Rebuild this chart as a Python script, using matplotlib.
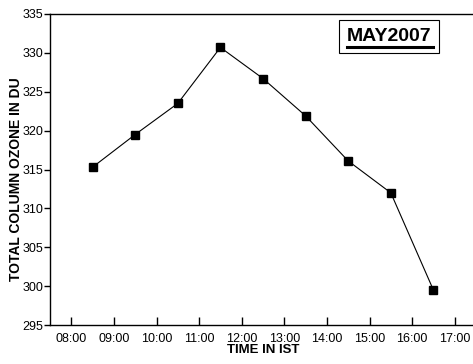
import numpy as np
import matplotlib.pyplot as plt
from matplotlib.lines import Line2D

plt.rcParams['font.family'] = ['Liberation Sans', 'DejaVu Sans']

# hourly mean ozone, May 2007
hours = [8.5, 9.5, 10.5, 11.5, 12.5, 13.5, 14.5, 15.5, 16.5]
ozone = [315.3, 319.5, 323.5, 330.7, 326.7, 321.9, 316.1, 312.0, 299.5]
tick_hours = list(range(8, 18))
tick_labels = ['%02d:00' % h for h in tick_hours]

fig = plt.figure(figsize=(4.73, 3.64), dpi=100)
ax = fig.add_axes([50 / 473, 39 / 364, 426 / 473, 311 / 364])

ax.plot(hours, ozone, color='black', lw=0.8, marker='s', ms=5.5)

ax.set_xlim(7.5, 17.5)
ax.set_ylim(295, 335)
ax.set_xticks(tick_hours)
ax.set_xticklabels(tick_labels)
ax.set_yticks(np.arange(295, 336, 5))

ax.spines['right'].set_visible(False)
for s in ['left', 'bottom', 'top']:
    ax.spines[s].set_linewidth(1.0)
ax.tick_params(axis='x', direction='in', length=6, width=1, labelsize=9, pad=6, top=False)
ax.tick_params(axis='y', direction='out', length=4, width=1, labelsize=9, pad=1)

ax.set_xlabel('TIME IN IST', fontsize=9.5, fontweight='bold', labelpad=-1)
ax.set_ylabel('TOTAL COLUMN OZONE IN DU', fontsize=10, fontweight='bold')
ax.yaxis.set_label_coords(-0.063, 0.47)

# boxed, underlined month label
fig.text(389 / 473, 1 - 36.5 / 364, 'MAY2007', fontsize=14, fontweight='bold',
         ha='center', va='center', zorder=3,
         bbox=dict(boxstyle='square,pad=0.42', fc='white', ec='black', lw=0.8))
fig.add_artist(Line2D([347 / 473, 433 / 473], [1 - 47 / 364, 1 - 47 / 364],
                      color='black', lw=2.2, zorder=5))

fig.savefig('out.png', dpi=100)
